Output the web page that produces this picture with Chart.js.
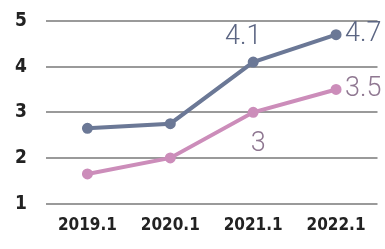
<!DOCTYPE html>
<html lang="en">
<head>
    <meta charset="UTF-8">
    <title>Line chart</title>
    <script src="https://cdn.jsdelivr.net/npm/chart.js"></script>
    <style>
        html, body {
            margin: 0;
            padding: 0;
            background: #ffffff;
        }
        #wrap {
            width: 385px;
            height: 249px;
        }
    </style>
</head>
<body>
    <div id="wrap">
        <canvas id="chart"></canvas>
    </div>

    <script>
        // data
        const categories = ['2019.1', '2020.1', '2021.1', '2022.1'];
        const blueValues = [2.65, 2.75, 4.1, 4.7];
        const pinkValues = [1.65, 2, 3, 3.5];
        const blueLabels = ['', '', '4.1', '4.7'];
        const pinkLabels = ['', '', '3', '3.5'];
        const yTicks = [1, 2, 3, 4, 5];

        const blueColor = '#6b7896';
        const pinkColor = '#cc8dba';

        // value labels next to some points
        const pointLabels = {
            id: 'pointLabels',
            afterDatasetsDraw(chart) {
                const c = chart.ctx;
                c.save();
                c.font = '300 27px Roboto';
                c.textBaseline = 'middle';
                const sets = [
                    { meta: chart.getDatasetMeta(0), labels: blueLabels, color: '#5c6683', pos: ['', '', 'top', 'right'] },
                    { meta: chart.getDatasetMeta(1), labels: pinkLabels, color: '#8f7791', pos: ['', '', 'bottom', 'right'] }
                ];
                sets.forEach(s => {
                    s.meta.data.forEach((pt, i) => {
                        const txt = s.labels[i];
                        if (!txt) return;
                        c.fillStyle = s.color;
                        if (s.pos[i] === 'top') {
                            c.textAlign = 'center';
                            c.fillText(txt, pt.x - 10, pt.y - 25);
                        } else if (s.pos[i] === 'bottom') {
                            c.textAlign = 'center';
                            c.fillText(txt, pt.x + 5, pt.y + 32);
                        } else {
                            c.textAlign = 'left';
                            c.fillText(txt, pt.x + 9, pt.y);
                        }
                    });
                });
                c.restore();
            }
        };

        new Chart(document.getElementById('chart'), {
            type: 'line',
            data: {
                labels: categories,
                datasets: [{
                    data: blueValues,
                    borderColor: blueColor,
                    backgroundColor: blueColor,
                    borderWidth: 4,
                    pointRadius: 3.5,
                    pointHoverRadius: 3.5,
                    tension: 0
                }, {
                    data: pinkValues,
                    borderColor: pinkColor,
                    backgroundColor: pinkColor,
                    borderWidth: 4,
                    pointRadius: 3.5,
                    pointHoverRadius: 3.5,
                    tension: 0
                }]
            },
            options: {
                responsive: true,
                maintainAspectRatio: false,
                animation: false,
                layout: {
                    padding: { top: 21, right: 2, bottom: 9, left: 0 }
                },
                plugins: {
                    legend: { display: false },
                    tooltip: { enabled: false }
                },
                scales: {
                    x: {
                        offset: true,
                        grid: { display: false },
                        border: { display: false },
                        ticks: {
                            color: '#222222',
                            padding: 4,
                            font: { family: 'DejaVu Sans Condensed', weight: 'bold', size: 17 }
                        }
                    },
                    y: {
                        min: 1,
                        max: 5,
                        afterBuildTicks(axis) {
                            axis.ticks = yTicks.map(v => ({ value: v }));
                        },
                        afterFit(axis) {
                            axis.width = 46;
                            axis.paddingTop = 0;
                            axis.paddingBottom = 0;
                        },
                        grid: { color: '#9a9a9a', lineWidth: 2, drawTicks: false },
                        border: { display: false },
                        ticks: {
                            color: '#222222',
                            padding: 19,
                            font: { family: 'DejaVu Sans Condensed', weight: 'bold', size: 19 }
                        }
                    }
                }
            },
            plugins: [pointLabels]
        });
    </script>
</body>
</html>
